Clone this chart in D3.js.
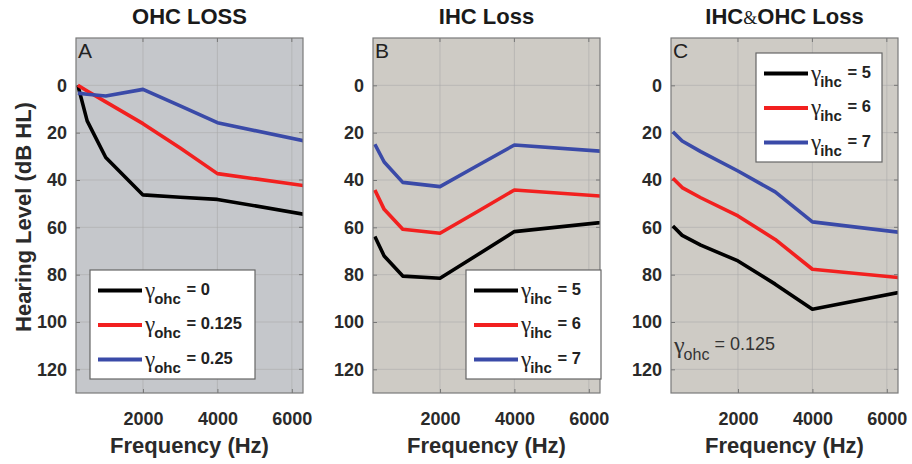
<!DOCTYPE html>
<html><head><meta charset="utf-8">
<script src="https://cdn.jsdelivr.net/npm/d3@7"></script>
<style>body{margin:0;background:#fff}svg{display:block}</style>
</head><body><svg id="c" width="912" height="464"></svg>
<script>
// ---- data ----
const freqs = [250, 500, 1000, 2000, 3000, 4000, 8000];
const ohcLossBlack = [0, 15, 30.5, 46.3, 47.3, 48.2, 59];
const ohcLossRed   = [0, 2.4, 7, 16.2, 26.5, 37.3, 46];
const ohcLossBlue  = [3.3, 3.8, 4.5, 1.7, 8.7, 15.8, 29];
const ihcLossBlack = [63.9, 72.1, 80.6, 81.5, 71.7, 61.8, 55.2];
const ihcLossRed   = [44.2, 52.4, 60.8, 62.5, 53.4, 44.2, 48.7];
const ihcLossBlue  = [24.9, 32.4, 41, 42.8, 34, 25.2, 29.7];
const bothLossBlack = [59.4, 63.4, 67.5, 74.2, 84, 94.6, 82.4];
const bothLossRed   = [39.3, 43.2, 47.5, 55.2, 65.1, 77.7, 83.8];
const bothLossBlue  = [19.6, 23.5, 28, 36.2, 45, 57.7, 65.2];
const titles = ["OHC LOSS", "IHC Loss", "IHC&OHC Loss"];
const panelLetters = ["A", "B", "C"];
const yTicks = [0, 20, 40, 60, 80, 100, 120];
const xTicks = [2000, 4000, 6000];
const ohcLegendValues = ["0", "0.125", "0.25"];
const ihcLegendValues = ["5", "6", "7"];
const seriesColors = ["#000000", "#f2201f", "#3a4aa8"];

// ---- layout ----
const svg = d3.select("#c");
const plotTop = 38, plotBottom = 393, pw = 227;
const lefts = [76, 373, 671];
const bgs = ["#c5c7cb", "#cecbc5", "#cecbc5"];
const sans = "'Liberation Sans', Arial, sans-serif";
const serif = "'Liberation Serif', 'DejaVu Serif', serif";
const y = d3.scaleLinear().domain([-20, 130]).range([plotTop, plotBottom]);

const panelData = [
  [ohcLossBlack, ohcLossRed, ohcLossBlue],
  [ihcLossBlack, ihcLossRed, ihcLossBlue],
  [bothLossBlack, bothLossRed, bothLossBlue]
];
const legends = [
  {x: 90, y: 270, w: 165, h: 109, sub: "ohc", vals: ohcLegendValues},
  {x: 466, y: 270, w: 135, h: 109, sub: "ihc", vals: ihcLegendValues},
  {x: 756, y: 53, w: 126, h: 109, sub: "ihc", vals: ihcLegendValues}
];

lefts.forEach((L, i) => {
  const x = d3.scaleLinear().domain([200, 6300]).range([L, L + pw]);
  const g = svg.append("g");
  const cid = "clip" + i;
  svg.append("clipPath").attr("id", cid).append("rect")
    .attr("x", L).attr("y", plotTop).attr("width", pw).attr("height", plotBottom - plotTop);
  g.append("rect").attr("x", L).attr("y", plotTop).attr("width", pw).attr("height", plotBottom - plotTop)
    .attr("fill", bgs[i]);
  // grid
  g.selectAll(".gy").data(yTicks).join("line")
    .attr("x1", L).attr("x2", L + pw).attr("y1", d => y(d)).attr("y2", d => y(d))
    .attr("stroke", "#a9a9a9").attr("stroke-width", 0.8).attr("stroke-opacity", 0.7);
  g.selectAll(".gx").data(xTicks).join("line")
    .attr("y1", plotTop).attr("y2", plotBottom).attr("x1", d => x(d)).attr("x2", d => x(d))
    .attr("stroke", "#a9a9a9").attr("stroke-width", 0.8).attr("stroke-opacity", 0.7);
  // axes
  const ya = d3.axisLeft(y).tickValues(yTicks).tickSize(-4).tickPadding(9);
  const yg = g.append("g").attr("transform", `translate(${L},0)`).call(ya);
  const xa = d3.axisBottom(x).tickValues(xTicks).tickSize(-4).tickPadding(19).tickFormat(d3.format("d"));
  const xg = g.append("g").attr("transform", `translate(0,${plotBottom})`).call(xa);
  [yg, xg].forEach(a => {
    a.select(".domain").remove();
    a.selectAll(".tick line").attr("stroke", "#777");
    a.selectAll("text").attr("font-family", sans).attr("font-weight", "bold")
      .attr("font-size", 18).attr("fill", "#2a2a2a");
  });
  // top/right ticks
  g.selectAll(".tt").data(xTicks).join("line")
    .attr("x1", d => x(d)).attr("x2", d => x(d)).attr("y1", plotTop).attr("y2", plotTop + 4).attr("stroke", "#777");
  g.selectAll(".rt").data(yTicks).join("line")
    .attr("x1", L + pw - 4).attr("x2", L + pw).attr("y1", d => y(d)).attr("y2", d => y(d)).attr("stroke", "#777");
  // lines
  const line = d3.line().x((d, k) => x(freqs[k])).y(d => y(d));
  panelData[i].forEach((s, k) => {
    g.append("path").datum(s).attr("d", line).attr("fill", "none")
      .attr("stroke", seriesColors[k]).attr("stroke-width", 3.6)
      .attr("stroke-linejoin", "round").attr("clip-path", `url(#${cid})`);
  });
  // frame
  g.append("rect").attr("x", L).attr("y", plotTop).attr("width", pw).attr("height", plotBottom - plotTop)
    .attr("fill", "none").attr("stroke", "#7a7a7a").attr("stroke-width", 1.2);
  // panel letter
  g.append("text").attr("x", L + 2).attr("y", plotTop + 20).text(panelLetters[i])
    .attr("font-family", sans).attr("font-size", 21).attr("fill", "#222");
  // title
  const t = g.append("text").attr("x", L + pw / 2).attr("y", 24).attr("text-anchor", "middle")
    .attr("font-family", sans).attr("font-weight", "bold").attr("font-size", 22).attr("fill", "#1a1a1a");
  const parts = titles[i].split("&");
  t.append("tspan").text(parts[0]);
  if (parts.length > 1) {
    t.append("tspan").text("&").attr("font-weight", "normal").attr("font-family", serif).attr("font-size", 18);
    t.append("tspan").text(parts[1]);
  }
  // x label
  g.append("text").attr("x", L + pw / 2).attr("y", 453).attr("text-anchor", "middle")
    .attr("font-family", sans).attr("font-weight", "bold").attr("font-size", 22).attr("fill", "#2a2a2a")
    .text("Frequency (Hz)");
  // legend
  const lg = legends[i];
  const lgG = g.append("g");
  lgG.append("rect").attr("x", lg.x).attr("y", lg.y).attr("width", lg.w).attr("height", lg.h)
    .attr("fill", "#fff").attr("stroke", "#666").attr("stroke-width", 1.2);
  lg.vals.forEach((v, k) => {
    const ry = lg.y + 20.5 + k * 34.5;
    lgG.append("line").attr("x1", lg.x + 8).attr("x2", lg.x + 52).attr("y1", ry).attr("y2", ry)
      .attr("stroke", seriesColors[k]).attr("stroke-width", 4.2);
    const tx = lgG.append("text").attr("x", lg.x + 55).attr("y", ry + 7).attr("fill", "#222");
    tx.append("tspan").text("γ").attr("font-family", serif).attr("font-size", 23);
    tx.append("tspan").text(lg.sub).attr("dx", -1).attr("dy", 6)
      .attr("font-family", sans).attr("font-weight", "bold").attr("font-size", 15);
    tx.append("tspan").text(" = " + v).attr("dx", 1).attr("dy", -9)
      .attr("font-family", sans).attr("font-weight", "bold").attr("font-size", 16.5);
  });
});

// y axis label
svg.append("text").attr("transform", "translate(31,217) rotate(-90)").attr("text-anchor", "middle")
  .attr("font-family", sans).attr("font-weight", "bold").attr("font-size", 22).attr("fill", "#2a2a2a")
  .text("Hearing Level (dB HL)");

// annotation panel C
const an = svg.append("text").attr("x", 674).attr("y", 353).attr("fill", "#333");
an.append("tspan").text("γ").attr("font-family", serif).attr("font-size", 24);
an.append("tspan").text("ohc").attr("dx", -1).attr("dy", 7).attr("font-family", sans).attr("font-size", 16);
an.append("tspan").text(" = 0.125").attr("dy", -10).attr("font-family", sans).attr("font-size", 18);
</script></body></html>
